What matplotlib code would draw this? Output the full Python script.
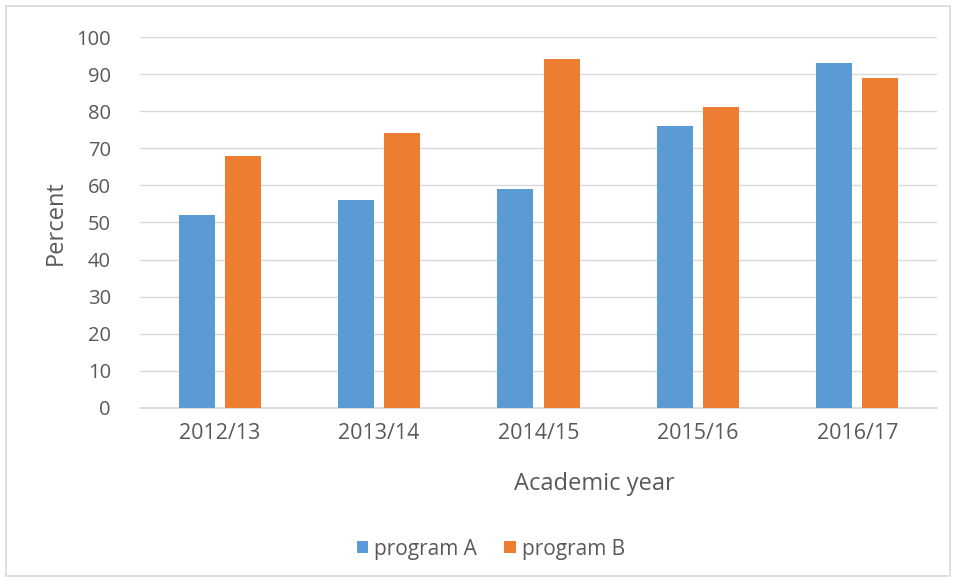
import numpy as np
import matplotlib
matplotlib.use("Agg")
import matplotlib.pyplot as plt
from matplotlib.patches import Rectangle

years = ["2012/13", "2013/14", "2014/15", "2015/16", "2016/17"]
program_a = [52, 56, 59, 76, 93]
program_b = [68, 74, 94, 81, 89]

blue = "#5b9bd5"
orange = "#ed7d31"
grey_text = "#595959"
grid_col = "#d9d9d9"

plt.rcParams['font.family'] = ['Open Sans', 'DejaVu Sans']

fig = plt.figure(figsize=(9.54, 5.8), dpi=100)
ax = fig.add_axes([0.1468, 0.2966, 0.8354, 0.6396])

x = np.arange(len(years))
w = 0.226
ax.bar(x - 0.145, program_a, width=w, color=blue, label="program A", zorder=3)
ax.bar(x + 0.145, program_b, width=w, color=orange, label="program B", zorder=3)

ax.set_xlim(-0.5, len(years) - 0.5)
ax.set_ylim(0, 100)
ax.set_yticks(range(0, 101, 10))
ax.set_xticks(x)
ax.set_xticklabels(years)
ax.yaxis.grid(True, color=grid_col, linewidth=1)
ax.set_axisbelow(True)
for s in ["top", "right", "left"]:
    ax.spines[s].set_visible(False)
ax.spines["bottom"].set_color(grid_col)
ax.spines["bottom"].set_linewidth(1.2)
ax.tick_params(axis="y", length=0, labelsize=14.5, colors=grey_text, pad=21)
ax.tick_params(axis="x", length=0, labelsize=15.5, colors=grey_text, pad=11)

ax.set_ylabel("Percent", fontsize=17, color=grey_text, labelpad=6)
fig.text(594 / 954, 1 - 484 / 580, "Academic year", fontsize=17,
         color=grey_text, ha="center", va="center")

ax.legend(loc="center", bbox_to_anchor=(491 / 954, 1 - 549 / 580),
          bbox_transform=fig.transFigure, ncol=2, frameon=False,
          fontsize=15, labelcolor=grey_text, handlelength=0.55,
          handleheight=0.55, handletextpad=0.3, columnspacing=1.3)

fig.patches.append(Rectangle((6 / 954, 4 / 580), 944 / 954, 570 / 580,
                             transform=fig.transFigure, fill=False,
                             edgecolor=grid_col, linewidth=1.2))

fig.savefig("out.png", dpi=100, facecolor="white")
